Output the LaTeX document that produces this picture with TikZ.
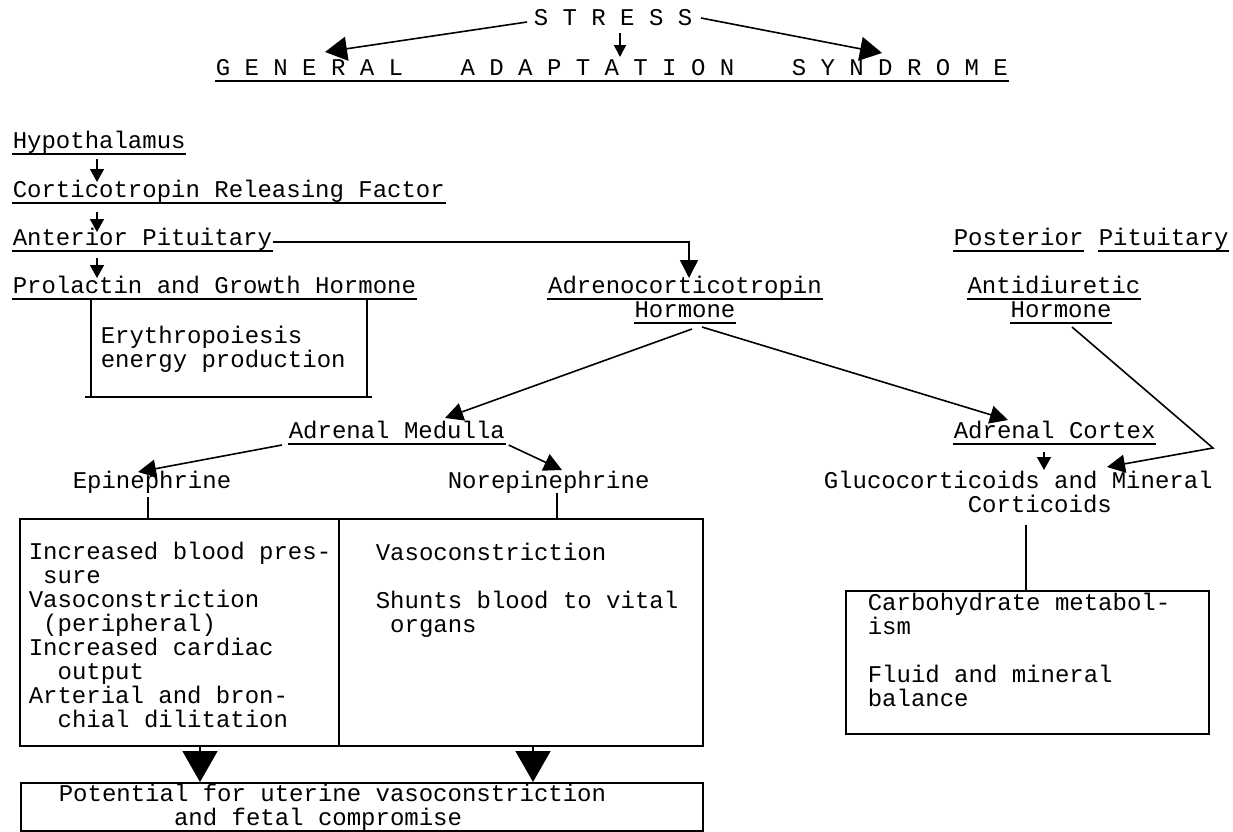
\documentclass[tikz,border=0pt]{standalone}
\usepackage{fontspec}
\setmainfont{Liberation Mono}
\usetikzlibrary{arrows.meta, positioning, calc}
\tikzset{
  every picture/.style={line width=0.8pt},
  lbl/.style={inner sep=0pt, anchor=base west, font=\fontsize{12}{12}\selectfont},
  blk/.style={lbl, align=left},
  box/.style={draw, inner sep=0pt, anchor=north west},
  arrow/.style={-{Triangle[length=6.5pt, width=7pt]}},
  arrowm/.style={-{Triangle[length=9pt, width=9pt]}},
  arrowb/.style={-{Triangle[length=11pt, width=12pt]}},
  wedge/.style={-{Triangle[length=15.5pt, width=17.5pt]}},
}
\begin{document}
\begin{tikzpicture}[x=0.5pt, y=-0.5pt]
  \useasboundingbox (0,0) rectangle (1233,831);
  % heading
  \node[lbl] (stress) at (533,25) {S~T~R~E~S~S};
  \node[lbl] (gas) at (215,75) {G~E~N~E~R~A~L~~~~A~D~A~P~T~A~T~I~O~N~~~~S~Y~N~D~R~O~M~E};
  \draw[arrowb] ($(stress.base west)+(-6,-3)$) -- ($(gas.base west)+(110,-23)$);
  \draw[-{Triangle[length=6pt, width=6pt]}] ($(stress.base west)+(87,8)$) -- ($(gas.base west)+(405,-18)$);
  \draw[arrowb] ($(stress.base east)+(8,-7)$) -- ($(gas.base west)+(667,-22)$);

  % anterior side
  \node[lbl] (hyp) at (12,148) {Hypothalamus};
  \node[lbl] (crf) at (12,197) {Corticotropin Releasing Factor};
  \node[lbl] (ant) at (12,245) {Anterior Pituitary};
  \node[lbl] (prl) at (12,293) {Prolactin and Growth Hormone};
  \node[blk] (ery) at (100,367) {Erythropoiesis\\energy production};
  \draw[arrow] ($(hyp.base west)+(85,11)$) -- ($(crf.base west)+(85,-15)$);
  \draw[arrow] ($(crf.base west)+(85,15)$) -- ($(ant.base west)+(85,-13)$);
  \draw[arrow] ($(ant.base west)+(85,13)$) -- ($(prl.base west)+(85,-15)$);
  \draw (91,300) -- (91,397) (367,300) -- (367,397) (85,397) -- (372,397);

  \node[lbl, anchor=base] (acthA) at (685,293) {Adrenocorticotropin};
  \node[lbl, anchor=base] (acthB) at (685,317) {Hormone};
  \draw[arrowm] ($(ant.base east)+(0,-3)$) -| ($(acthA.base)+(4,-15)$);

  % posterior side
  \node[lbl] (postA) at (953,245) {Posterior};
  \node[lbl] (postB) at (1098,245) {Pituitary};
  \node[lbl, anchor=base] (adhA) at (1054,293) {Antidiuretic};
  \node[lbl, anchor=base] (adhB) at (1061,317) {Hormone};

  % adrenal glands
  \node[lbl] (medulla) at (288,438) {Adrenal Medulla};
  \node[lbl] (cortex) at (953,438) {Adrenal Cortex};
  \node[lbl] (epi) at (72,488) {Epinephrine};
  \node[lbl] (nor) at (447,488) {Norepinephrine};
  \node[blk] (gluco) at (823,512) {Glucocorticoids and Mineral\\\hspace*{72pt}Corticoids};
  \draw[arrowm] ($(acthB.base)+(7,12)$) -- ($(medulla.base west)+(157,-20)$);
  \draw[arrowm] ($(acthB.base)+(17,10)$) -- ($(cortex.base west)+(55,-18)$);
  \draw[arrowm] ($(adhB.base)+(11,10)$) -- ($(gluco.base west)+(390,-64)$) -- ($(gluco.base west)+(284,-45)$);
  \draw[arrow] ($(cortex.base west)+(91,14)$) -- ($(gluco.base west)+(221,-42)$);
  \draw[arrowm] ($(medulla.base west)+(-6,7)$) -- ($(epi.base west)+(66,-16)$);
  \draw[arrowm] ($(medulla.base east)+(3,7)$) -- ($(nor.base west)+(115,-18)$);

  % effects
  \node[box, minimum width=159.5pt, minimum height=113.5pt] (epibox) at (19,518) {};
  \node[box, minimum width=182pt, minimum height=113.5pt] (norbox) at (338,518) {};
  \node[box, minimum width=181.5pt, minimum height=71.5pt] (cortbox) at (845,590) {};
  \node[box, minimum width=341pt, minimum height=24pt] (potbox) at (20,782) {};
  \node[blk] (epitxt) at (28,727) {Increased blood pres-\\~sure\\Vasoconstriction\\~(peripheral)\\Increased cardiac\\~~output\\Arterial and bron-\\~~chial dilitation};
  \node[blk] (nortxt) at (375,632) {Vasoconstriction\\[12pt]Shunts blood to vital\\~organs};
  \node[blk] (cortxt) at (867,706) {Carbohydrate metabol-\\ism\\[12pt]Fluid and mineral\\balance};
  \node[blk] (pottxt) at (58,825) {Potential for uterine vasoconstriction\\\hspace*{57.6pt}and fetal compromise};

  \coordinate (epitick) at ($(epi.base west)+(76,9)$);
  \coordinate (nortick) at ($(nor.base west)+(110,5)$);
  \coordinate (glutick) at ($(gluco.base west)+(203,13)$);
  \draw (epitick) -- (epitick |- epibox.north);
  \draw (nortick) -- (nortick |- norbox.north);
  \draw (glutick) -- (glutick |- cortbox.north);
  \coordinate (wl) at ($(epibox.south west)+(181,0)$);
  \coordinate (wr) at ($(norbox.south west)+(195,0)$);
  \draw[wedge] (wl) -- (wl |- potbox.north);
  \draw[wedge] (wr) -- (wr |- potbox.north);

  \foreach \n in {gas,hyp,crf,ant,prl,acthA,acthB,postA,postB,adhA,adhB,medulla,cortex}
    \draw ([yshift=-3pt]\n.base west) -- ([yshift=-3pt]\n.base east);
\end{tikzpicture}
\end{document}
